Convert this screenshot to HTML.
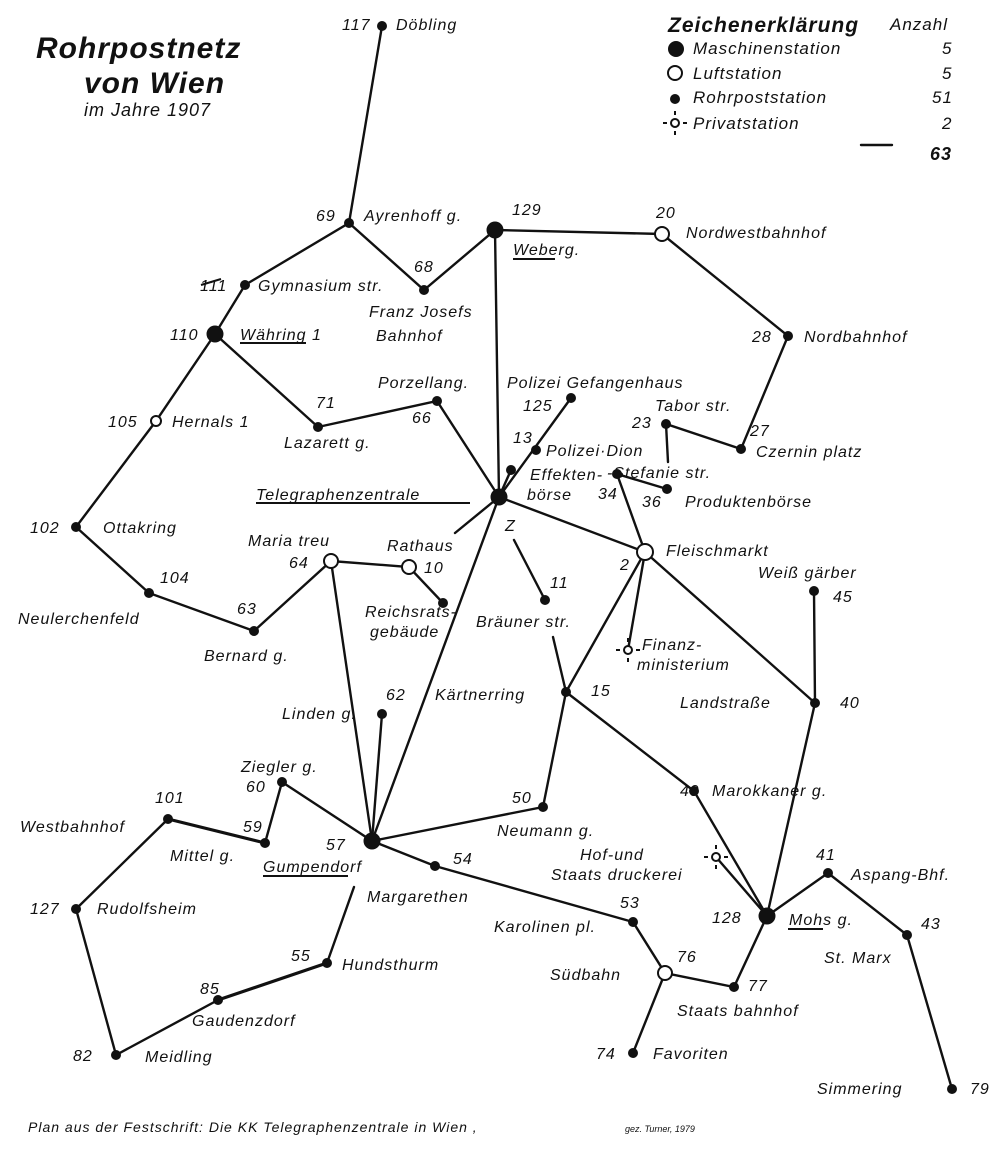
<!DOCTYPE html>
<html><head><meta charset="utf-8"><style>
html,body{margin:0;padding:0;background:#fff;}
svg{display:block}
text{font-family:"Liberation Sans",sans-serif;font-style:italic;fill:#111;font-size:16px;letter-spacing:1px}
</style></head><body>
<svg width="1000" height="1151" viewBox="0 0 1000 1151" xmlns="http://www.w3.org/2000/svg">
<g stroke="#111" stroke-width="2.4" fill="none" stroke-linecap="round">
<path d="M382,26 L349,223 L245,285 L215,334 L156,421 L76,527 L149,593 L254,631 L331,561 L409,567 L443,603"/>
<path d="M349,223 L424,290 L495,230 L662,234 L788,336 L741,449 L666,424 L668,462"/>
<path d="M495,230 L499,497"/>
<path d="M215,334 L318,427 L437,401 L499,497"/>
<path d="M499,497 L571,398"/>
<path d="M499,497 L511,470"/>
<path d="M499,497 L455,533"/>
<path d="M499,497 L372,841"/>
<path d="M499,497 L645,552 L815,703 L767,916"/>
<path d="M514,540 L545,600"/>
<path d="M553,637 L566,692 L645,552 L617,474 L667,489"/>
<path d="M645,552 L628,650"/>
<path d="M815,703 L814,591"/>
<path d="M566,692 L543,807 L372,841"/>
<path d="M566,692 L694,791 L767,916 L716,857"/>
<path d="M767,916 L828,873 L907,935 L952,1089"/>
<path d="M767,916 L734,987 L665,973 L633,922 L435,866 L372,841"/>
<path d="M665,973 L633,1053"/>
<path d="M331,561 L372,841 L282,782 L265,843"/>
<path d="M265,843 L168,819" stroke-width="3.2"/>
<path d="M168,819 L76,909 L116,1055 L218,1000"/>
<path d="M218,1000 L327,963" stroke-width="3.2"/>
<path d="M327,963 L354,887"/>
<path d="M372,841 L382,714"/>
<path d="M861,145 L892,145"/>
</g>
<g fill="#111">
<circle cx="382" cy="26" r="5"/><circle cx="349" cy="223" r="5"/><circle cx="424" cy="290" r="5"/>
<circle cx="245" cy="285" r="5"/><circle cx="788" cy="336" r="5"/><circle cx="318" cy="427" r="5"/>
<circle cx="437" cy="401" r="5"/><circle cx="571" cy="398" r="5"/><circle cx="536" cy="450" r="5"/>
<circle cx="511" cy="470" r="5"/><circle cx="666" cy="424" r="5"/><circle cx="741" cy="449" r="5"/>
<circle cx="617" cy="474" r="5"/><circle cx="667" cy="489" r="5"/><circle cx="76" cy="527" r="5"/>
<circle cx="149" cy="593" r="5"/><circle cx="254" cy="631" r="5"/><circle cx="443" cy="603" r="5"/>
<circle cx="545" cy="600" r="5"/><circle cx="814" cy="591" r="5"/><circle cx="566" cy="692" r="5"/>
<circle cx="815" cy="703" r="5"/><circle cx="382" cy="714" r="5"/><circle cx="282" cy="782" r="5"/>
<circle cx="168" cy="819" r="5"/><circle cx="265" cy="843" r="5"/><circle cx="435" cy="866" r="5"/>
<circle cx="543" cy="807" r="5"/><circle cx="694" cy="791" r="5"/><circle cx="828" cy="873" r="5"/>
<circle cx="76" cy="909" r="5"/><circle cx="633" cy="922" r="5"/><circle cx="907" cy="935" r="5"/>
<circle cx="734" cy="987" r="5"/><circle cx="327" cy="963" r="5"/><circle cx="218" cy="1000" r="5"/>
<circle cx="116" cy="1055" r="5"/><circle cx="633" cy="1053" r="5"/><circle cx="952" cy="1089" r="5"/>
<circle cx="495" cy="230" r="8.5"/><circle cx="215" cy="334" r="8.5"/><circle cx="499" cy="497" r="8.5"/>
<circle cx="372" cy="841" r="8.5"/><circle cx="767" cy="916" r="8.5"/>
<circle cx="676" cy="49" r="8"/><circle cx="675" cy="99" r="5"/>
</g>
<g fill="#fff" stroke="#111" stroke-width="2">
<circle cx="662" cy="234" r="7"/><circle cx="156" cy="421" r="5"/><circle cx="331" cy="561" r="7"/>
<circle cx="409" cy="567" r="7"/><circle cx="645" cy="552" r="8"/><circle cx="665" cy="973" r="7"/>
<circle cx="675" cy="73" r="7"/>
<circle cx="628" cy="650" r="4"/><circle cx="716" cy="857" r="4"/><circle cx="675" cy="123" r="4"/>
</g>
<g stroke="#111" stroke-width="2">
<path d="M620,650h-4M636,650h4M628,642v-4M628,658v4"/>
<path d="M708,857h-4M724,857h4M716,849v-4M716,865v4"/>
<path d="M667,123h-4M683,123h4M675,115v-4M675,131v4"/>
<path d="M240,343h66M256,503h214M513,259h42M788,929h35M263,876h85M201,285l20,-6"/>
</g>
<text x="36" y="58" style="font-size:30px;font-weight:bold">Rohrpostnetz</text>
<text x="84" y="93" style="font-size:30px;font-weight:bold">von Wien</text>
<text x="84" y="116" style="font-size:18px">im Jahre 1907</text>
<text x="668" y="32" style="font-size:21px;font-weight:bold">Zeichenerklärung</text>
<text x="890" y="30" style="font-size:17px">Anzahl</text>
<text x="693" y="54" style="font-size:17px">Maschinenstation</text>
<text x="693" y="79" style="font-size:17px">Luftstation</text>
<text x="693" y="103" style="font-size:17px">Rohrpoststation</text>
<text x="693" y="129" style="font-size:17px">Privatstation</text>
<text x="942" y="54" style="font-size:17px">5</text><text x="942" y="79" style="font-size:17px">5</text>
<text x="932" y="103" style="font-size:17px">51</text><text x="942" y="129" style="font-size:17px">2</text>
<text x="930" y="160" style="font-size:18px;font-weight:bold">63</text>
<text x="342" y="30">117</text><text x="396" y="30">Döbling</text>
<text x="316" y="221">69</text><text x="364" y="221">Ayrenhoff g.</text>
<text x="512" y="215">129</text><text x="513" y="255">Weberg.</text>
<text x="656" y="218">20</text><text x="686" y="238">Nordwestbahnhof</text>
<text x="414" y="272">68</text><text x="369" y="317">Franz Josefs</text><text x="376" y="341">Bahnhof</text>
<text x="200" y="291">111</text><text x="258" y="291">Gymnasium str.</text>
<text x="170" y="340">110</text><text x="240" y="340">Währing 1</text>
<text x="752" y="342">28</text><text x="804" y="342">Nordbahnhof</text>
<text x="378" y="388">Porzellang.</text><text x="412" y="423">66</text>
<text x="316" y="408">71</text><text x="284" y="448">Lazarett g.</text>
<text x="108" y="427">105</text><text x="172" y="427">Hernals 1</text>
<text x="507" y="388">Polizei Gefangenhaus</text><text x="523" y="411">125</text>
<text x="513" y="443">13</text><text x="546" y="456">Polizei·Dion</text>
<text x="530" y="480">Effekten-</text><text x="527" y="500">börse</text>
<text x="655" y="411">Tabor str.</text><text x="632" y="428">23</text><text x="750" y="436">27</text>
<text x="756" y="457">Czernin platz</text>
<text x="607" y="478">-Stefanie str.</text><text x="598" y="499">34</text><text x="642" y="507">36</text>
<text x="685" y="507">Produktenbörse</text>
<text x="256" y="500">Telegraphenzentrale</text><text x="505" y="531">Z</text>
<text x="30" y="533">102</text><text x="103" y="533">Ottakring</text>
<text x="248" y="546">Maria treu</text><text x="387" y="551">Rathaus</text>
<text x="289" y="568">64</text><text x="424" y="573">10</text>
<text x="365" y="617">Reichsrats-</text><text x="370" y="637">gebäude</text>
<text x="550" y="588">11</text><text x="476" y="627">Bräuner str.</text>
<text x="620" y="570">2</text><text x="666" y="556">Fleischmarkt</text>
<text x="758" y="578">Weiß gärber</text><text x="833" y="602">45</text>
<text x="160" y="583">104</text><text x="18" y="624">Neulerchenfeld</text>
<text x="237" y="614">63</text><text x="204" y="661">Bernard g.</text>
<text x="642" y="650">Finanz-</text><text x="637" y="670">ministerium</text>
<text x="591" y="696">15</text><text x="435" y="700">Kärtnerring</text>
<text x="680" y="708">Landstraße</text><text x="840" y="708">40</text>
<text x="386" y="700">62</text><text x="282" y="719">Linden g.</text>
<text x="241" y="772">Ziegler g.</text><text x="246" y="792">60</text>
<text x="155" y="803">101</text><text x="20" y="832">Westbahnhof</text>
<text x="243" y="832">59</text><text x="170" y="861">Mittel g.</text>
<text x="326" y="850">57</text><text x="263" y="872">Gumpendorf</text>
<text x="453" y="864">54</text><text x="367" y="902">Margarethen</text>
<text x="512" y="803">50</text><text x="497" y="836">Neumann g.</text>
<text x="680" y="796">49</text><text x="712" y="796">Marokkaner g.</text>
<text x="580" y="860">Hof-und</text><text x="551" y="880">Staats druckerei</text>
<text x="816" y="860">41</text><text x="851" y="880">Aspang-Bhf.</text>
<text x="30" y="914">127</text><text x="97" y="914">Rudolfsheim</text>
<text x="620" y="908">53</text><text x="494" y="932">Karolinen pl.</text>
<text x="712" y="923">128</text><text x="789" y="925">Mohs g.</text>
<text x="921" y="929">43</text><text x="824" y="963">St. Marx</text>
<text x="291" y="961">55</text><text x="342" y="970">Hundsthurm</text>
<text x="550" y="980">Südbahn</text><text x="677" y="962">76</text>
<text x="748" y="991">77</text><text x="677" y="1016">Staats bahnhof</text>
<text x="200" y="994">85</text><text x="192" y="1026">Gaudenzdorf</text>
<text x="73" y="1061">82</text><text x="145" y="1062">Meidling</text>
<text x="596" y="1059">74</text><text x="653" y="1059">Favoriten</text>
<text x="817" y="1094">Simmering</text><text x="970" y="1094">79</text>
<text x="28" y="1132" style="font-size:14px">Plan aus der Festschrift: Die KK Telegraphenzentrale in Wien ,</text>
<text x="625" y="1132" style="font-size:9px;letter-spacing:0">gez. Turner, 1979</text>
</svg>
</body></html>
